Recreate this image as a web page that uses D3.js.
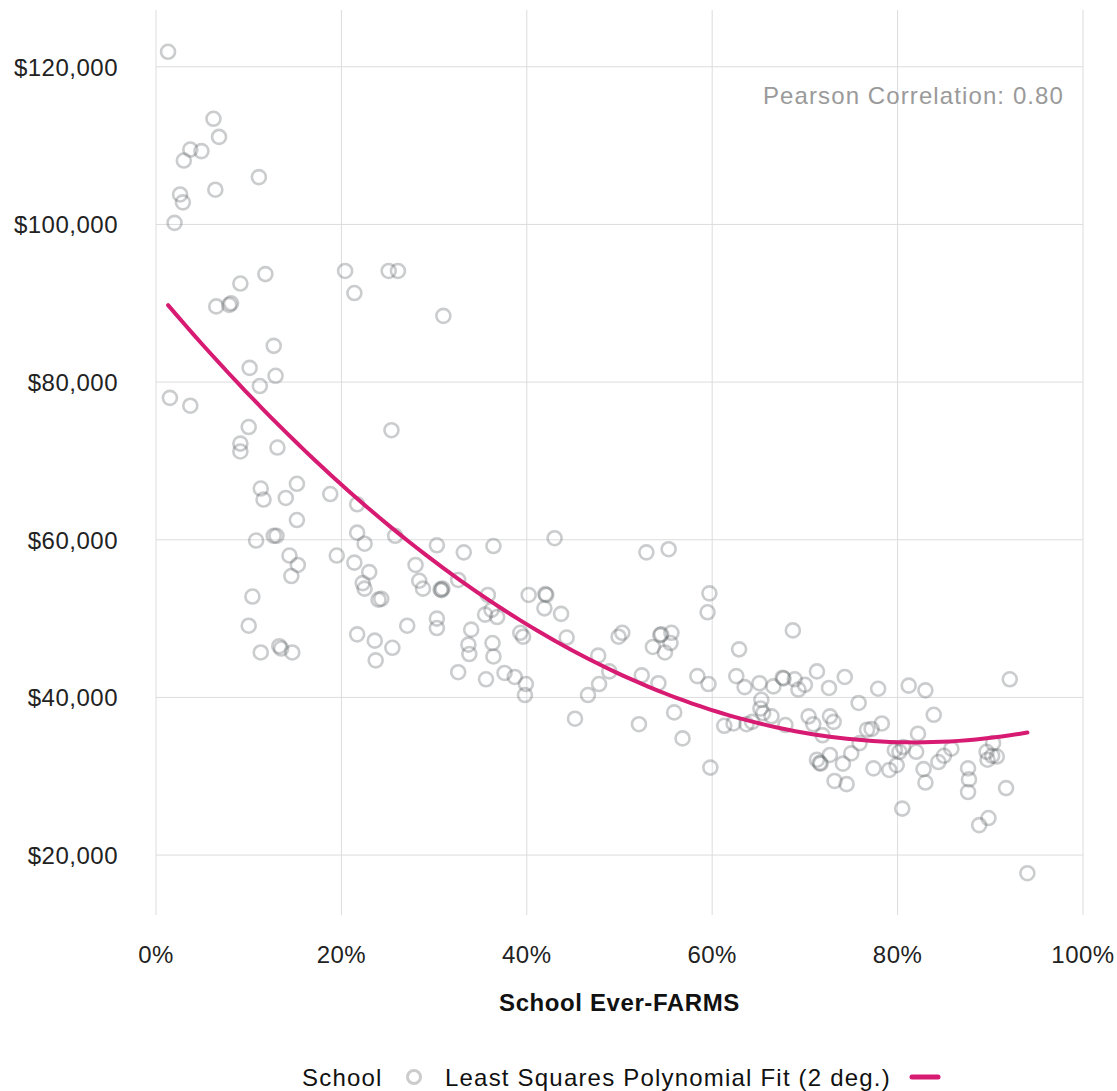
<!DOCTYPE html>
<html>
<head>
<meta charset="utf-8">
<script src="https://cdn.jsdelivr.net/npm/d3@7"></script>
<style>
  html, body { margin: 0; padding: 0; background: #fff; }
  svg text { font-family: "Liberation Sans", Arial, Helvetica, sans-serif; }
</style>
</head>
<body>
<svg id="chart" width="1117" height="1091"></svg>
<script>
// School Ever-FARMS share (%)
const farms = [
  1.3, 6.2, 6.8, 3.7, 4.9, 3.0, 11.1, 6.4, 2.6, 2.9, 2.0, 11.8, 9.1, 7.9, 8.1, 6.5,
  20.4, 21.4, 25.1, 26.1, 31.0, 12.7, 10.1, 12.9, 11.2, 1.5, 3.7, 25.4, 10.0, 9.1, 9.1, 13.1,
  11.3, 11.6, 15.2, 14.0, 18.8, 21.7, 15.2, 10.8, 12.7, 13.0, 14.4, 15.3, 14.6, 10.4, 10.0, 11.3,
  13.3, 13.5, 14.7, 19.5, 21.7, 22.5, 21.4, 23.0, 22.3, 22.5, 24.0, 24.3, 25.8, 28.0, 28.4, 28.8,
  30.3, 30.7, 30.8, 30.9, 33.2, 32.6, 36.4, 35.8, 35.5, 36.2, 36.8, 21.7, 23.6, 25.5, 23.7, 27.1,
  30.3, 30.3, 34.0, 33.7, 33.8, 32.6, 36.3, 36.4, 43.0, 40.2, 42.0, 42.1, 41.9, 43.7, 39.3, 39.6,
  44.3, 35.6, 37.6, 38.7, 39.9, 39.8, 46.6, 47.8, 48.9, 47.7, 49.9, 50.3, 52.9, 55.3, 54.4, 54.5,
  55.6, 55.5, 53.6, 54.9, 52.4, 54.2, 58.4, 59.5, 59.7, 45.2, 52.1, 55.9, 56.8, 68.7, 62.9, 59.6,
  62.6, 63.5, 65.1, 66.6, 67.6, 67.7, 68.9, 69.3, 70.0, 71.3, 72.6, 74.3, 77.9, 81.2, 83.0, 92.1,
  59.8, 61.3, 62.3, 63.7, 64.3, 65.3, 65.2, 65.5, 66.4, 67.9, 70.4, 70.9, 72.7, 73.1, 71.9, 75.8,
  76.7, 77.2, 78.3, 75.9, 75.0, 71.6, 71.3, 71.7, 72.7, 74.1, 73.2, 74.5, 77.4, 79.1, 79.9, 80.2,
  79.7, 80.6, 82.0, 82.2, 83.9, 82.8, 83.0, 84.4, 85.0, 85.8, 80.5, 87.6, 87.7, 87.6, 89.6, 90.3,
  90.2, 90.7, 89.7, 91.7, 88.8, 89.8, 94.0
];
// Matching values ($)
const salaries = [
  121900, 113400, 111100, 109500, 109300, 108100, 106000, 104400, 103800, 102800, 100200, 93700, 92500, 89800, 90000, 89600,
  94100, 91300, 94100, 94100, 88400, 84600, 81800, 80800, 79500, 78000, 77000, 73900, 74300, 72200, 71200, 71700,
  66500, 65100, 67100, 65300, 65800, 64500, 62500, 59900, 60500, 60500, 58000, 56800, 55400, 52800, 49100, 45700,
  46500, 46200, 45700, 58000, 60900, 59500, 57100, 55900, 54500, 53800, 52400, 52500, 60500, 56800, 54800, 53800,
  59300, 53700, 53600, 53800, 58400, 54900, 59200, 53000, 50500, 51100, 50200, 48000, 47200, 46300, 44700, 49100,
  50000, 48800, 48600, 46700, 45500, 43200, 46900, 45200, 60200, 53000, 53100, 53000, 51300, 50600, 48200, 47700,
  47600, 42300, 43100, 42600, 41700, 40300, 40300, 41700, 43300, 45300, 47700, 48200, 58400, 58800, 47900, 48000,
  48200, 46900, 46400, 45700, 42800, 41800, 42700, 50800, 53200, 37300, 36600, 38100, 34800, 48500, 46100, 41700,
  42700, 41300, 41800, 41400, 42500, 42400, 42300, 41000, 41600, 43300, 41200, 42600, 41100, 41500, 40900, 42300,
  31100, 36400, 36700, 36600, 36900, 39700, 38600, 38000, 37600, 36500, 37600, 36600, 37600, 36900, 35200, 39300,
  35900, 36000, 36700, 34200, 32900, 31700, 32100, 31600, 32700, 31600, 29400, 29000, 31000, 30800, 31400, 33100,
  33300, 33700, 33100, 35400, 37800, 30900, 29200, 31800, 32600, 33500, 25900, 31000, 29600, 28000, 33100, 34200,
  32600, 32500, 32100, 28500, 23800, 24700, 17700
];
const xTicks = [0, 20, 40, 60, 80, 100];
const xTickLabels = ["0%", "20%", "40%", "60%", "80%", "100%"];
const yTicks = [20000, 40000, 60000, 80000, 100000, 120000];
const yTickLabels = ["$20,000", "$40,000", "$60,000", "$80,000", "$100,000", "$120,000"];
const xTitle = "School Ever-FARMS";
const legendLabels = ["School", "Least Squares Polynomial Fit (2 deg.)"];
const correlationLabel = "Pearson Correlation: 0.80";

(function () {
const svg = d3.select("#chart");
const pLeft = 156, pRight = 1083, pTop = 10, pBottom = 915;

const x = d3.scaleLinear().domain([0, 100]).range([pLeft, pRight]);
const y = d3.scaleLinear().domain([12400, 127200]).range([pBottom, pTop]);

// grid
const g = svg.append("g");
g.selectAll(".vg").data(xTicks).join("line")
  .attr("x1", d => x(d)).attr("x2", d => x(d))
  .attr("y1", pTop).attr("y2", pBottom)
  .attr("stroke", "#dcdcdc").attr("stroke-width", 1);
g.selectAll(".hg").data(yTicks).join("line")
  .attr("x1", pLeft).attr("x2", pRight)
  .attr("y1", d => y(d)).attr("y2", d => y(d))
  .attr("stroke", "#dcdcdc").attr("stroke-width", 1);

// tick labels
svg.append("g").selectAll("text").data(yTicks).join("text")
  .attr("x", 118).attr("y", d => y(d) + 9)
  .attr("text-anchor", "end")
  .attr("font-size", 24).attr("letter-spacing", 0.5).attr("fill", "#222")
  .text((d, i) => yTickLabels[i]);
svg.append("g").selectAll("text").data(xTicks).join("text")
  .attr("x", d => x(d)).attr("y", 963)
  .attr("text-anchor", "middle")
  .attr("font-size", 24).attr("letter-spacing", 0.5).attr("fill", "#222")
  .text((d, i) => xTickLabels[i]);

svg.append("text").attr("x", (pLeft + pRight) / 2).attr("y", 1011)
  .attr("text-anchor", "middle").attr("font-size", 24).attr("font-weight", "bold")
  .attr("letter-spacing", 0.6).attr("fill", "#111").text(xTitle);

// points
const pts = farms.map((f, i) => ({ f, s: salaries[i] }));
svg.append("g").selectAll("circle").data(pts).join("circle")
  .attr("cx", d => x(d.f)).attr("cy", d => y(d.s)).attr("r", 7)
  .attr("fill", "none").attr("stroke", "#5f6368").attr("stroke-opacity", 0.33)
  .attr("stroke-width", 2.6);

// least squares quadratic fit computed from data
function fitQuadratic(xs, ys) {
  const n = xs.length;
  const s = [0, 0, 0, 0, 0], t = [0, 0, 0];
  for (let i = 0; i < n; i++) {
    const xv = xs[i] / 100, yv = ys[i];
    let p = 1;
    for (let k = 0; k < 5; k++) { s[k] += p; p *= xv; }
    t[0] += yv; t[1] += yv * xv; t[2] += yv * xv * xv;
  }
  const M = [[s[0], s[1], s[2], t[0]], [s[1], s[2], s[3], t[1]], [s[2], s[3], s[4], t[2]]];
  for (let c = 0; c < 3; c++) {
    for (let r = c + 1; r < 3; r++) {
      const f = M[r][c] / M[c][c];
      for (let k = c; k < 4; k++) M[r][k] -= f * M[c][k];
    }
  }
  const b = [0, 0, 0];
  for (let r = 2; r >= 0; r--) {
    let v = M[r][3];
    for (let k = r + 1; k < 3; k++) v -= M[r][k] * b[k];
    b[r] = v / M[r][r];
  }
  return b;
}
const coef = fitQuadratic(farms, salaries);
const [xmin, xmax] = d3.extent(farms);
const fitPts = d3.range(0, 101).map(i => {
  const xv = xmin + (xmax - xmin) * i / 100;
  const u = xv / 100;
  return { f: xv, s: coef[0] + coef[1] * u + coef[2] * u * u };
});
svg.append("path").datum(fitPts)
  .attr("d", d3.line().x(d => x(d.f)).y(d => y(d.s)))
  .attr("fill", "none").attr("stroke", "#d81b72").attr("stroke-width", 4)
  .attr("stroke-linecap", "round");

// correlation label
svg.append("text").attr("x", 1064).attr("y", 104)
  .attr("text-anchor", "end").attr("font-size", 24).attr("letter-spacing", 1.1)
  .attr("fill", "#9a9a9a").text(correlationLabel);

// legend
const lg = svg.append("g");
lg.append("text").attr("x", 302).attr("y", 1086).attr("font-size", 24).attr("letter-spacing", 1.2)
  .attr("fill", "#111").text(legendLabels[0]);
lg.append("circle").attr("cx", 414).attr("cy", 1077).attr("r", 6.5)
  .attr("fill", "none").attr("stroke", "#cccccc").attr("stroke-width", 3);
lg.append("text").attr("x", 445).attr("y", 1086).attr("font-size", 24).attr("letter-spacing", 1.2)
  .attr("fill", "#111").text(legendLabels[1]);
lg.append("line").attr("x1", 912).attr("x2", 938).attr("y1", 1077).attr("y2", 1077)
  .attr("stroke", "#d81b72").attr("stroke-width", 5).attr("stroke-linecap", "round");
})();
</script>
</body>
</html>
